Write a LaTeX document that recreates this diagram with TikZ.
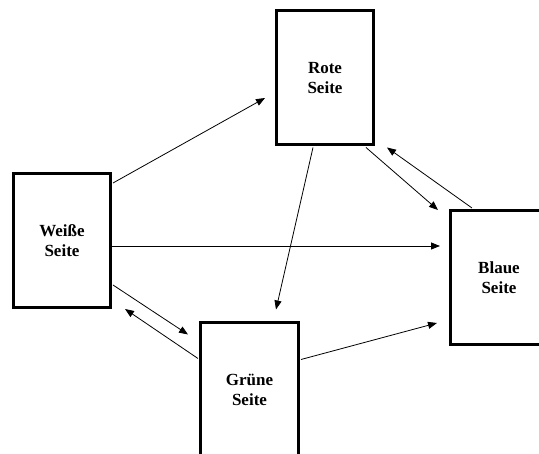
\documentclass[tikz,border=0pt]{standalone}
\usepackage{fontspec}
\setmainfont{Liberation Serif}
\usetikzlibrary{arrows.meta,calc}
\tikzset{
  side/.style={draw, line width=3pt, rectangle, minimum width=97pt, minimum height=134pt,
    inner sep=0pt, align=center, font=\fontsize{17}{20}\selectfont\bfseries},
  arr/.style={line width=0.8pt, -{Triangle[length=9pt,width=7pt]}}
}
\begin{document}
\begin{tikzpicture}[x=1pt,y=-1pt]
\clip (0,0) rectangle (539,454);
\fill[white] (0,0) rectangle (539,454);
\node[side] (W) at (62,240.5) {Weiße\\Seite};
\node[side] (R) at (325,78) {Rote\\Seite};
\node[side, minimum width=98pt] (G) at (249.5,390) {Grüne\\Seite};
\node[side] (B) at (499,277.5) {Blaue\\Seite};
\draw[arr] ($(W.north east)+(1,11)$) -- ($(R.west)+(-10,20)$);
\draw[arr] ($(W.east)+(0,5.5)$) -- ($(B.west)+(-9,-31.5)$);
\draw[arr] ($(W.south east)+(1,-24)$) -- ($(G.north west)+(-11,13)$);
\draw[arr] ($(G.north west)+(-1,37)$) -- ($(W.south east)+(13,0)$);
\draw[arr] ($(R.south)+(-12,1)$) -- ($(G.north)+(26.5,-12)$);
\draw[arr] ($(G.north east)+(1,38)$) -- ($(B.west)+(-12,45.5)$);
\draw[arr] ($(R.south east)+(-9,1)$) -- ($(B.north west)+(-11,1)$);
\draw[arr] ($(B.north west)+(23,-1)$) -- ($(R.south east)+(12,1)$);
\end{tikzpicture}
\end{document}
